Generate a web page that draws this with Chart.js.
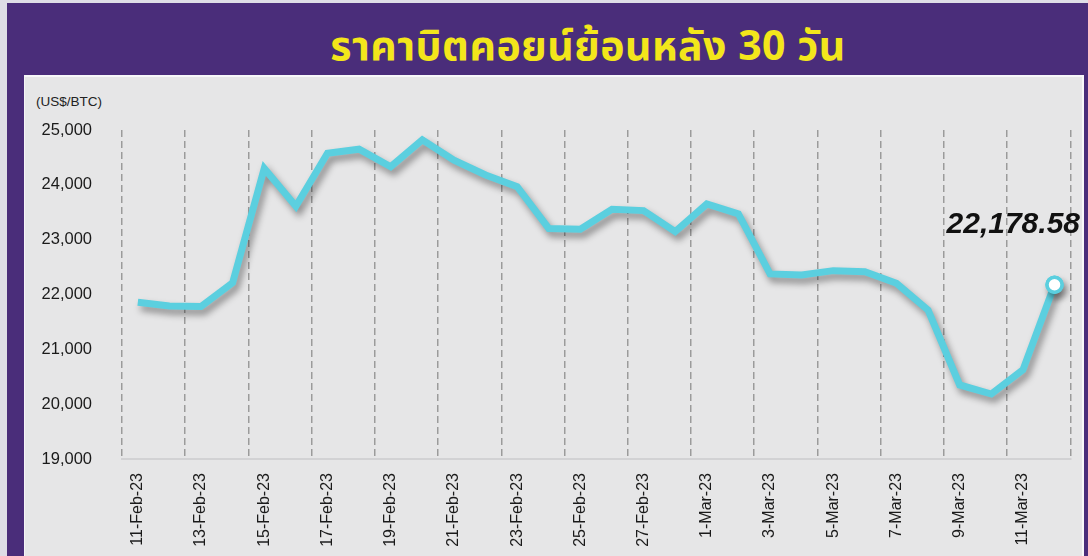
<!DOCTYPE html>
<html>
<head>
<meta charset="utf-8">
<script src="https://cdn.jsdelivr.net/npm/chart.js@4.4.0/dist/chart.umd.min.js"></script>
<style>
    html, body { margin: 0; padding: 0; }
    body { width: 1088px; height: 556px; background: #dedde6; position: relative; overflow: hidden; }
    #frame { position: absolute; left: 7px; top: 3px; right: 0; bottom: 0; background: #4a2d7a; }
    #panel { position: absolute; left: 24px; top: 75px; width: 1057px; height: 481px; background: #e6e6e7; border-left: 1px solid #f4f4f6; border-top: 2px solid #f7f7f9; border-right: 2px solid #f7f7f9; }
    #title { position: absolute; left: 0; width: 1176px; top: 16px; text-align: center; color: #f3e61b; font: bold 41px "Noto Sans Thai", "Noto Sans", "DejaVu Sans", sans-serif; letter-spacing: 0.5px; }
    #unit { position: absolute; left: 36px; top: 94px; color: #222; font: 13.5px "Liberation Sans", Arial, sans-serif; }
    #chartStayDay { position: absolute; left: 0; top: 0; }
</style>
</head>
<body>
<div id="frame"></div>
<div id="panel"></div>
<div id="title">ราคาบิตคอยน์ย้อนหลัง 30 วัน</div>
<div id="unit">(US$/BTC)</div>
<canvas id="chartStayDay" width="1088" height="556"></canvas>
<script>
    // ราคาปิดรายวัน (US$/BTC)
    const dateLabels = ['11-Feb-23', '12-Feb-23', '13-Feb-23', '14-Feb-23', '15-Feb-23', '16-Feb-23', '17-Feb-23', '18-Feb-23',
        '19-Feb-23', '20-Feb-23', '21-Feb-23', '22-Feb-23', '23-Feb-23', '24-Feb-23', '25-Feb-23', '26-Feb-23', '27-Feb-23',
        '28-Feb-23', '1-Mar-23', '2-Mar-23', '3-Mar-23', '4-Mar-23', '5-Mar-23', '6-Mar-23', '7-Mar-23', '8-Mar-23',
        '9-Mar-23', '10-Mar-23', '11-Mar-23', '12-Mar-23'];
    const btcPrice = [21860, 21790, 21780, 22215, 24300, 23610, 24575, 24650, 24330, 24820, 24450, 24180, 23965, 23205,
        23190, 23555, 23530, 23145, 23650, 23470, 22375, 22355, 22435, 22415, 22205, 21715, 20350, 20185, 20625, 22178.58];
    const yTicks = [19000, 20000, 21000, 22000, 23000, 24000, 25000];

    const lineColor = '#5bcfdf';

    const lineShadow = {
        id: 'lineShadow',
        beforeDatasetsDraw: function (chart) {
            const ctx = chart.ctx;
            ctx.save();
            ctx.shadowColor = 'rgba(0,0,0,0.4)';
            ctx.shadowBlur = 7;
            ctx.shadowOffsetX = 3;
            ctx.shadowOffsetY = 5;
        },
        afterDatasetsDraw: function (chart) {
            chart.ctx.restore();
            // vẽ lại điểm cuối không có bóng để tâm trắng rõ
            const meta = chart.getDatasetMeta(0);
            meta.data[meta.data.length - 1].draw(chart.ctx, chart.chartArea);
        }
    };

    const lastLabel = {
        id: 'lastLabel',
        afterDraw: function (chart) {
            const { ctx } = chart;
            const meta = chart.getDatasetMeta(0);
            const last = meta.data[meta.data.length - 1];
            const value = btcPrice[btcPrice.length - 1];
            ctx.save();
            ctx.font = 'italic bold 30px "Liberation Sans", Arial, sans-serif';
            ctx.fillStyle = '#111';
            ctx.textAlign = 'right';
            ctx.textBaseline = 'alphabetic';
            ctx.fillText(value.toLocaleString('en-US', { minimumFractionDigits: 2 }), chart.width - 8, last.y - 52);
            ctx.restore();
        }
    };

    let pointSize = btcPrice.map((v, i) => i == btcPrice.length - 1 ? 7.5 : 0);

    let ctx_btc = document.getElementById('chartStayDay').getContext('2d');
    let btcChart = new Chart(ctx_btc, {
        type: 'line',
        data: {
            labels: dateLabels,
            datasets: [{
                label: 'BTC',
                data: btcPrice,
                borderColor: lineColor,
                borderWidth: 7,
                borderJoinStyle: 'miter',
                tension: 0,
                pointRadius: pointSize,
                pointHoverRadius: pointSize,
                pointBackgroundColor: '#ffffff',
                pointBorderColor: lineColor,
                pointBorderWidth: 3.5
            }]
        },
        plugins: [lineShadow, lastLabel],
        options: {
            responsive: false,
            animation: false,
            layout: {
                padding: { top: 130, right: 16, left: 0, bottom: 0 }
            },
            plugins: {
                legend: { display: false },
                tooltip: { enabled: false }
            },
            scales: {
                x: {
                    offset: true,
                    afterFit: function (scale) { scale.height = 97; },
                    grid: {
                        offset: true,
                        drawTicks: false,
                        lineWidth: 1.5,
                        color: function (c) {
                            return (c.index === undefined || c.index % 2 == 0) ? '#9b9b9b' : 'rgba(0,0,0,0)';
                        }
                    },
                    border: {
                        display: true,
                        color: '#d2d2d4',
                        width: 2,
                        dash: [7, 4]
                    },
                    ticks: {
                        autoSkip: false,
                        maxRotation: 90,
                        minRotation: 90,
                        padding: 14,
                        color: '#1a1a1a',
                        font: { family: '"Liberation Sans", Arial, sans-serif', size: 16 },
                        callback: function (val, index) {
                            return index % 2 == 0 ? dateLabels[index] : '';
                        }
                    }
                },
                y: {
                    min: yTicks[0],
                    max: yTicks[yTicks.length - 1],
                    afterFit: function (scale) { scale.width = 122; },
                    afterBuildTicks: function (scale) {
                        scale.ticks = yTicks.map(v => ({ value: v }));
                    },
                    grid: { display: false, drawTicks: false },
                    border: { display: false },
                    ticks: {
                        padding: 30,
                        color: '#1a1a1a',
                        font: { family: '"Liberation Sans", Arial, sans-serif', size: 16.5 },
                        callback: function (val) {
                            return Number(val).toLocaleString('en-US');
                        }
                    }
                }
            }
        }
    });
</script>
</body>
</html>
